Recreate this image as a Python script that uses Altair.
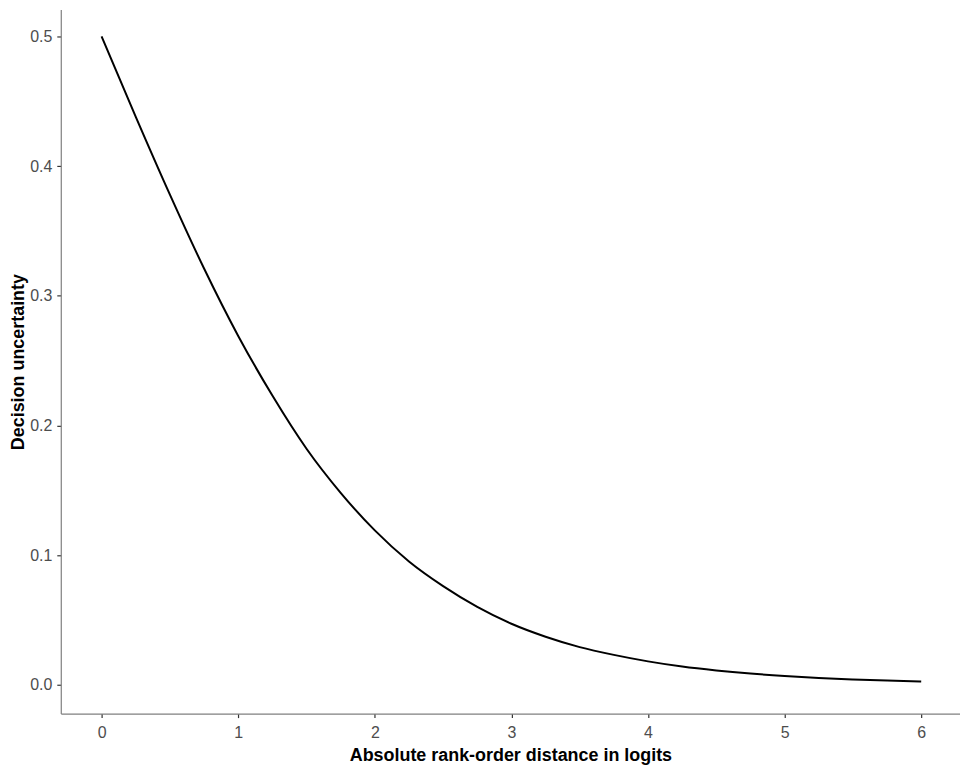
import altair as alt
import pandas as pd

distance = [0, 0.25, 0.5, 0.75, 1, 1.25, 1.5, 1.75, 2, 2.25, 2.5, 2.75, 3,
            3.25, 3.5, 3.75, 4, 4.25, 4.5, 4.75, 5, 5.25, 5.5, 5.75, 6]
uncertainty = [0.5, 0.438, 0.378, 0.321, 0.269, 0.223, 0.182, 0.148, 0.119,
               0.095, 0.076, 0.060, 0.047, 0.037, 0.029, 0.023, 0.018, 0.014,
               0.011, 0.0086, 0.0067, 0.0052, 0.0041, 0.0032, 0.0025]
x_ticks = [0, 1, 2, 3, 4, 5, 6]
y_ticks = [0.0, 0.1, 0.2, 0.3, 0.4, 0.5]

df = pd.DataFrame({"distance": distance, "uncertainty": uncertainty})

axis_common = dict(
    grid=False,
    domainColor="#7f7f7f",
    domainWidth=1.2,
    tickColor="#333333",
    tickSize=4,
    tickWidth=1.2,
    labelColor="#4d4d4d",
    labelFont="Liberation Sans",
    labelFontSize=16,
    titleFont="Liberation Sans",
    titleFontSize=18,
    titleFontWeight="bold",
    titleColor="#000000",
)

chart = alt.Chart(df).mark_line(color="black", strokeWidth=2, interpolate="monotone").encode(
    x=alt.X("distance:Q",
            scale=alt.Scale(domain=[-0.299, 6.284], nice=False, zero=False),
            axis=alt.Axis(title="Absolute rank-order distance in logits", values=x_ticks,
                          format="d", labelPadding=7, titlePadding=6, **axis_common)),
    y=alt.Y("uncertainty:Q",
            scale=alt.Scale(domain=[-0.0223, 0.5207], nice=False, zero=False),
            axis=alt.Axis(title="Decision uncertainty", values=y_ticks,
                          format=".1f", labelPadding=5, titlePadding=2, **axis_common)),
).properties(
    width=903,
    height=707,
    autosize=alt.AutoSizeParams(type="none"),
    padding={"left": 53, "top": 0, "right": 0, "bottom": 50},
).configure_view(stroke=None)

chart.save("out.html", embed_options={"renderer": "svg", "actions": False})
